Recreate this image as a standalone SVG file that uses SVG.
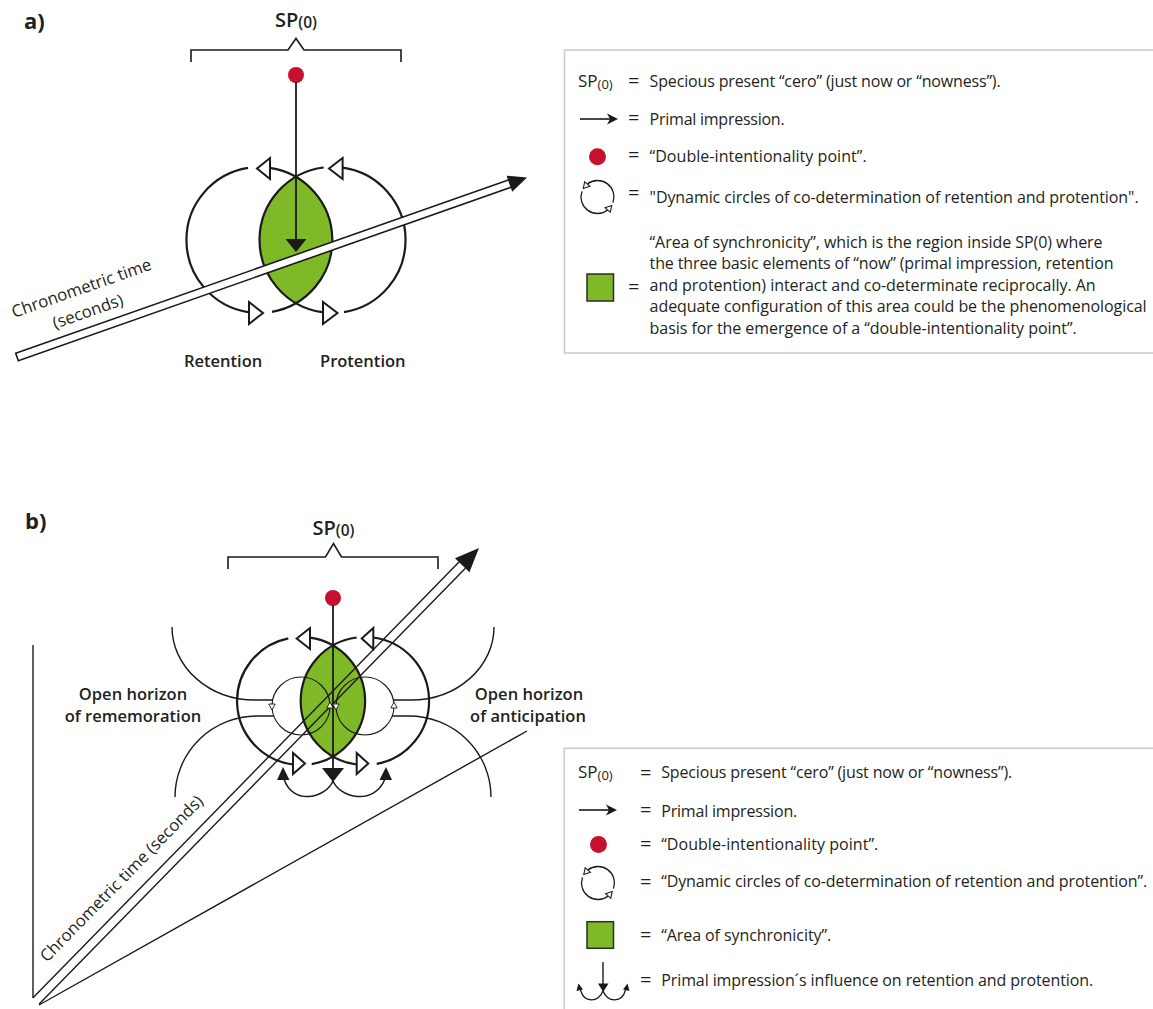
<svg xmlns="http://www.w3.org/2000/svg" width="1153" height="1009" viewBox="0 0 1153 1009">
<style>
text{font-family:"Open Sans","Noto Sans","DejaVu Sans",sans-serif;fill:#231f20}
.lg{font-size:16px}
.eq{font-size:20px;text-anchor:middle}
.lab{font-size:16.5px;font-weight:600}
.sp{font-weight:600}
.ttl{font-size:22px;font-weight:700}
.rot{font-size:16.7px}
.thick{fill:none;stroke:#1a1a1a;stroke-width:2.2}
.thin{fill:none;stroke:#1a1a1a;stroke-width:1.1}
.mid{fill:none;stroke:#1a1a1a;stroke-width:1.4}
.ah{fill:#fff;stroke:#1a1a1a;stroke-width:2;stroke-linejoin:miter}
.tah{fill:#fff;stroke:#1a1a1a;stroke-width:0.9}
.blk{fill:#1a1a1a}
.green{fill:#7fb927}
.red{fill:#c5112e}
.box{fill:none;stroke:#c9c9c9;stroke-width:1.5}
</style>
<defs>
<g id="circ-icon">
<path d="M-15.5,-5.6 A16.5 16.5 0 0 0 10.2,13 M15.5,5.6 A16.5 16.5 0 0 0 -10.2,-13" fill="none" stroke="#1a1a1a" stroke-width="1.3"/>
<polygon points="-14.2,-8.5 -7.6,-10.7 -12.8,-15.3" fill="#fff" stroke="#1a1a1a" stroke-width="1.1"/>
<polygon points="14.2,8.5 12.8,15.3 7.6,10.7" fill="#fff" stroke="#1a1a1a" stroke-width="1.1"/>
</g>
<g id="pi-arrow">
<line x1="0" y1="0" x2="31" y2="0" stroke="#1a1a1a" stroke-width="1.6"/>
<polygon points="38,0 27,-5.5 30,0 27,5.5" fill="#1a1a1a"/>
</g>
</defs>

<!-- ============ PART A ============ -->
<text id="a-title" class="ttl" x="24" y="29">a)</text>

<g id="a-sp">
<text class="sp" x="296" y="27" text-anchor="middle"><tspan font-size="20">SP</tspan><tspan font-size="15.5" dy="1">(0)</tspan></text>
<path d="M191,62 L191,50 L288,50 L296,38.5 L304,50 L401,50 L401,62" fill="none" stroke="#1a1a1a" stroke-width="1.6"/>
</g>

<g id="a-lens"><path class="green" d="M296,176.8 A73 73 0 0 1 296,303.2 A73 73 0 0 1 296,176.8"/></g>

<g id="a-retention-circle">
<path class="thick" d="M248,167.9 A73 73 0 0 0 248,312.1"/>
<path class="thick" d="M272,311.9 A73 73 0 0 0 270,167.8"/>
<polygon class="ah" points="257,168.5 270,158 270,179"/>
<polygon class="ah" points="263,313 249,302 249,324"/>
</g>
<g id="a-protention-circle">
<path class="thick" d="M323.7,167.5 A73 73 0 0 0 322,312.2"/>
<path class="thick" d="M344,312.1 A73 73 0 0 0 342.6,167.7"/>
<polygon class="ah" points="329,168.5 342.6,158 342.6,179"/>
<polygon class="ah" points="337.5,313 323,302 323,324"/>
</g>

<g id="a-dot"><circle class="red" cx="296" cy="75" r="8"/></g>

<g id="a-connectors">
<line x1="296" y1="82" x2="296" y2="241" stroke="#1a1a1a" stroke-width="1.8"/>
<polygon class="blk" points="285.5,239 306.5,239 296,252"/>
</g>

<g id="a-time-axis" transform="translate(17,357) rotate(-19.39)">
<rect x="0" y="-3.9" width="523" height="7.8" fill="#fff" stroke="#1a1a1a" stroke-width="1.6"/>
<polygon class="blk" points="522,-8.5 540.7,0 522,8.5"/>
</g>
<text id="a-time-label1" class="rot" transform="translate(14,318) rotate(-19.39)">Chronometric time</text>
<text id="a-time-label2" class="rot" transform="translate(55,329) rotate(-19.39)">(seconds)</text>

<text id="a-retention-label" class="lab" x="184" y="367">Retention</text>
<text id="a-protention-label" class="lab" x="320" y="367">Protention</text>

<!-- Legend A -->
<g id="legend-a">
<rect class="box" x="564.5" y="50" width="600" height="303"/>
<text x="578" y="86.7"><tspan font-size="17">SP</tspan><tspan font-size="13" dy="2">(0)</tspan></text>
<text class="eq" x="633.7" y="87.5">=</text>
<text class="lg" x="649.6" y="86.7" textLength="351">Specious present “cero” (just now or “nowness”).</text>
<use href="#pi-arrow" x="580" y="119"/>
<text class="eq" x="633.7" y="125">=</text>
<text class="lg" x="649.6" y="124.5" textLength="135">Primal impression.</text>
<circle class="red" cx="597.5" cy="156.7" r="8.5"/>
<text class="eq" x="633.7" y="162">=</text>
<text class="lg" x="649.6" y="162" textLength="217">“Double-intentionality point”.</text>
<use href="#circ-icon" x="597.5" y="197"/>
<text class="eq" x="633.7" y="199.5">=</text>
<text class="lg" x="649.6" y="203.3" textLength="489">"Dynamic circles of co-determination of retention and protention".</text>
<rect x="587" y="274" width="26.5" height="27" class="green" stroke="#2b2b2b" stroke-width="1.5"/>
<text class="eq" x="633.7" y="293.5">=</text>
<text class="lg" x="649.6" y="247.5" textLength="453">“Area of synchronicity”, which is the region inside SP(0) where</text>
<text class="lg" x="649.6" y="269" textLength="464">the three basic elements of “now” (primal impression, retention</text>
<text class="lg" x="649.6" y="290.5" textLength="446">and protention) interact and co-determinate reciprocally. An</text>
<text class="lg" x="649.6" y="312" textLength="497">adequate configuration of this area could be the phenomenological</text>
<text class="lg" x="649.6" y="333.5" textLength="427">basis for the emergence of a “double-intentionality point”.</text>
</g>

<!-- ============ PART B ============ -->
<text id="b-title" class="ttl" x="25" y="529">b)</text>

<g id="b-sp">
<text class="sp" x="333.5" y="535" text-anchor="middle"><tspan font-size="20">SP</tspan><tspan font-size="15.5" dy="1">(0)</tspan></text>
<path d="M228,569 L228,557 L325.5,557 L333.5,543.5 L341.5,557 L438,557 L438,569" fill="none" stroke="#1a1a1a" stroke-width="1.6"/>
</g>

<g id="b-lens"><path class="green" d="M333,645.6 A64 64 0 0 1 333,756.4 A64 64 0 0 1 333,645.6"/></g>

<g id="b-retention-circle">
<path class="thick" d="M288.3,638.3 A64 64 0 0 0 293,764.5"/>
<path class="thick" d="M311.7,764.1 A64 64 0 0 0 310,637.6"/>
<polygon class="ah" points="296.7,638.5 310,628 310,649"/>
<polygon class="ah" points="305,763.5 293,753 293,774"/>
</g>
<g id="b-protention-circle">
<path class="thick" d="M356.7,637.5 A64 64 0 0 0 356.7,764.5"/>
<path class="thick" d="M376.7,763.9 A64 64 0 0 0 373.3,637.5"/>
<polygon class="ah" points="361.7,638.5 373.3,628 373.3,649"/>
<polygon class="ah" points="368.3,763.5 356.7,753 356.7,774"/>
</g>
<g id="b-inner-circles">
<circle class="thin" cx="301" cy="706" r="29"/>
<circle class="thin" cx="365" cy="706" r="29"/>
</g>

<g id="b-horizon-rememoration">
<path class="mid" d="M172,627 A83 73 0 0 0 255,700 L273,700"/>
<path class="mid" d="M175,797 A82 81 0 0 1 257,716 L274,716"/>
</g>
<g id="b-horizon-anticipation">
<path class="mid" d="M494,627 A83 73 0 0 1 411,700 L393,700"/>
<path class="mid" d="M491,797 A82 81 0 0 0 409,716 L392,716"/>
</g>

<g id="b-axes">
<line x1="33" y1="645" x2="33" y2="998" stroke="#1a1a1a" stroke-width="1.4"/>
<line x1="39" y1="1005" x2="527" y2="731" stroke="#1a1a1a" stroke-width="1.4"/>
</g>
<g id="b-time-axis">
<line x1="32.8" y1="997.9" x2="459" y2="562.1" stroke="#1a1a1a" stroke-width="1.4"/>
<line x1="39.2" y1="1004.1" x2="465.4" y2="568.3" stroke="#1a1a1a" stroke-width="1.4"/>
<polygon class="blk" points="479,548 469.4,572.2 455,558.2"/>
</g>
<text id="b-time-label" class="rot" transform="translate(47,963) rotate(-45.65)">Chronometric time (seconds)</text>

<g id="b-dot"><circle class="red" cx="333" cy="598" r="8"/></g>

<g id="b-connectors">
<line x1="333" y1="605" x2="333" y2="770" stroke="#1a1a1a" stroke-width="1.8"/>
<polygon class="blk" points="322,768 344,768 333,782"/>
<path d="M333,781 C326,798 293,806 284,779" fill="none" stroke="#1a1a1a" stroke-width="1.5"/>
<path d="M333,781 C340,798 374,806 385,779" fill="none" stroke="#1a1a1a" stroke-width="1.5"/>
<polygon class="blk" points="283,767 277,780 289.5,780"/>
<polygon class="blk" points="386,767 379.5,780 392,780"/>
</g>

<g id="b-small-arrows">
<polygon class="tah" points="272,710 268.8,704 275.2,704"/>
<polygon class="tah" points="330,702 326.8,708 333.2,708"/>
<polygon class="tah" points="336,710 332.8,704 339.2,704"/>
<polygon class="tah" points="394,702 390.8,708 397.2,708"/>
</g>

<text id="b-rememoration-label" class="lab" text-anchor="middle"><tspan x="133" y="700">Open horizon</tspan><tspan x="133" y="721.5">of rememoration</tspan></text>
<text id="b-anticipation-label" class="lab" text-anchor="middle"><tspan x="529" y="700">Open horizon</tspan><tspan x="528" y="721.5">of anticipation</tspan></text>

<!-- Legend B -->
<g id="legend-b">
<rect class="box" x="564.2" y="748.3" width="600" height="300"/>
<text x="578" y="778.3"><tspan font-size="17">SP</tspan><tspan font-size="13" dy="2">(0)</tspan></text>
<text class="eq" x="645.6" y="779.5">=</text>
<text class="lg" x="661.2" y="778.3" textLength="351">Specious present “cero” (just now or “nowness”).</text>
<use href="#pi-arrow" x="579" y="810"/>
<text class="eq" x="645.6" y="817">=</text>
<text class="lg" x="661.2" y="816.7" textLength="136">Primal impression.</text>
<circle class="red" cx="598.5" cy="844.5" r="8.5"/>
<text class="eq" x="645.6" y="850.5">=</text>
<text class="lg" x="661.2" y="849.5" textLength="217">“Double-intentionality point”.</text>
<use href="#circ-icon" x="598" y="883"/>
<text class="eq" x="645.6" y="888.5">=</text>
<text class="lg" x="661.2" y="886.7" textLength="486">“Dynamic circles of co-determination of retention and protention”.</text>
<rect x="587" y="921.7" width="26.5" height="26.6" class="green" stroke="#2b2b2b" stroke-width="1.5"/>
<text class="eq" x="645.6" y="941.5">=</text>
<text class="lg" x="661.2" y="940.5" textLength="170">“Area of synchronicity”.</text>
<line x1="603" y1="962" x2="603" y2="985" stroke="#1a1a1a" stroke-width="1.4"/>
<polygon class="blk" points="598,983.5 608.5,983.5 603.2,992"/>
<path d="M603,991 C598,1003 584,1003 580.5,990 M603,991 C608,1003 622,1003 625.5,990" fill="none" stroke="#1a1a1a" stroke-width="1.3"/>
<polygon class="blk" points="578.5,983.5 576.5,991 583,989.5"/>
<polygon class="blk" points="627.5,983.5 629.5,991 623,989.5"/>
<text class="eq" x="645.6" y="987">=</text>
<text class="lg" x="661.2" y="986" textLength="432">Primal impression´s influence on retention and protention.</text>
</g>
</svg>
